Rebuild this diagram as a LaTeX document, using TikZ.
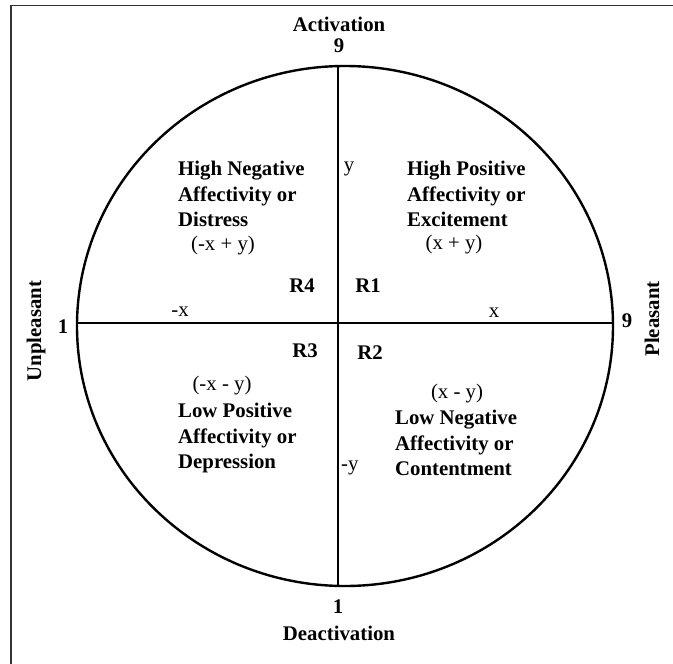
\documentclass[tikz,border=0pt]{standalone}
\usepackage{fontspec}
\setmainfont{Liberation Serif}
\begin{document}
\begin{tikzpicture}[x=1pt,y=-1pt,
  bold/.style={font=\fontsize{20.8}{25.5}\selectfont\bfseries, inner sep=0pt},
  plain/.style={font=\fontsize{20.8}{25.5}\selectfont, inner sep=0pt},
  quad/.style={bold, align=left, anchor=north west},
  axis/.style={line width=2.4pt, black},
  frame/.style={line width=1.6pt, black!80}]
\useasboundingbox (0,0) rectangle (673,664);
% frame (top and left only)
\coordinate (fTR) at (673,5.5);
\coordinate (fTL) at (11,5.5);
\coordinate (fBL) at (11,664);
\draw[frame] (fTR) -- (fTL) -- (fBL);
% circle
\coordinate (c) at (345,326);
\draw[axis] (c) ellipse [x radius=268, y radius=260];
\coordinate (top) at (338,66);
\coordinate (bot) at (338,586);
\coordinate (lft) at (77,323);
\coordinate (rgt) at (613,323);
\draw[axis] (top) -- (bot);
\draw[axis] (lft) -- (rgt);
% pole labels
\node[bold, anchor=base] (act) at (339,31) {Activation};
\node[bold, anchor=base] (n9t) at (339,52) {9};
\node[bold, anchor=base] (n1b) at (338,613) {1};
\node[bold, anchor=base] (deact) at (339,640) {Deactivation};
\node[bold, anchor=base] (n1l) at (63,333) {1};
\node[bold, anchor=base] (n9r) at (627,327) {9};
\node[bold, rotate=90] (unp) at (36,331) {Unpleasant};
\node[bold, rotate=90] (ple) at (652,319) {Pleasant};
% quadrant texts
\node[quad] (ul) at (178,161) {High Negative\\Affectivity or\\Distress};
\node[plain, anchor=base] (ulf) at (223,250) {(-x + y)};
\node[quad] (ur) at (407,161) {High Positive\\Affectivity or\\Excitement};
\node[plain, anchor=base] (urf) at (454,249) {(x + y)};
\node[plain, anchor=base] (llf) at (222,390) {(-x - y)};
\node[quad] (ll) at (178,403) {Low Positive\\Affectivity or\\Depression};
\node[plain, anchor=base] (lrf) at (457,398) {(x - y)};
\node[quad] (lr) at (395,410) {Low Negative\\Affectivity or\\Contentment};
% region labels
\node[bold, anchor=base] (r4) at (302,292) {R4};
\node[bold, anchor=base] (r1) at (368,292) {R1};
\node[bold, anchor=base] (r3) at (305,357) {R3};
\node[bold, anchor=base] (r2) at (370,359) {R2};
% axis labels
\node[plain, anchor=base] (mx) at (180,316) {-x};
\node[plain, anchor=base] (px) at (494,317) {x};
\node[plain, anchor=base] (py) at (349,171) {y};
\node[plain, anchor=base west] (my) at (341,470) {-y};
\end{tikzpicture}
\end{document}
